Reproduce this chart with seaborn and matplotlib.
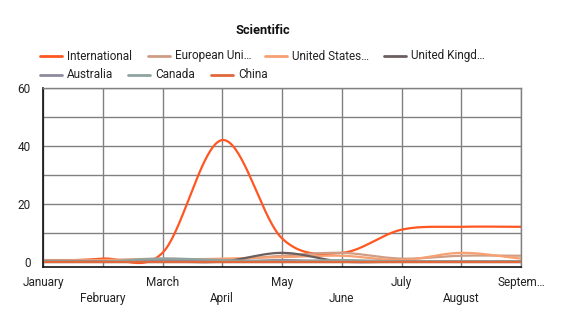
import numpy as np
import pandas as pd
import matplotlib
matplotlib.use("Agg")
import matplotlib.pyplot as plt
import seaborn as sns
from matplotlib.lines import Line2D

months = ["January", "February", "March", "April", "May", "June", "July", "August", "September"]
tick_labels = ["January", "February", "March", "April", "May", "June", "July", "August", "Septem…"]
series_names = ["International", "European Union", "United States", "United Kingdom",
                "Australia", "Canada", "China"]
legend_labels = ["International", "European Uni…", "United States…", "United Kingd…",
                 "Australia", "Canada", "China"]
international = [0, 1, 3, 42, 8, 3, 11, 12, 12]
european_union = [0.5, 0.5, 1, 0.5, 2, 3, 1, 2, 2]
united_states = [0, 0.5, 0.5, 1, 1.5, 2, 0.5, 3, 1]
united_kingdom = [0, 0, 0, 0, 3, 0, 0, 0, 0]
australia = [0, 0, 0.5, 0, 0.5, 0, 0, 0, 0]
canada = [0, 0, 1, 0.5, 0, 0.5, 0, 0, 0]
china = [0, 0, 0, 0, 0, 0, 0, 0, 0]
colors = ["#ff5722", "#d09c84", "#f7a072", "#6b5e5e", "#8c8c9c", "#8ea4a0", "#e0683a"]

all_values = [international, european_union, united_states, united_kingdom,
              australia, canada, china]


def smooth(y, n=40):
    y = np.asarray(y, dtype=float)
    k = len(y)
    m = np.zeros(k)
    m[1:-1] = (y[2:] - y[:-2]) / 2
    m[0] = (y[1] - y[0])
    m[-1] = (y[-1] - y[-2])
    xs, ys = [], []
    t = np.linspace(0, 1, n, endpoint=False)
    h00 = 2 * t**3 - 3 * t**2 + 1
    h10 = t**3 - 2 * t**2 + t
    h01 = -2 * t**3 + 3 * t**2
    h11 = t**3 - t**2
    for i in range(k - 1):
        xs.append(i + t)
        ys.append(h00 * y[i] + h10 * m[i] + h01 * y[i + 1] + h11 * m[i + 1])
    xs.append(np.array([k - 1.0]))
    ys.append(np.array([y[-1]]))
    return np.concatenate(xs), np.concatenate(ys)


rows = []
for name, vals in zip(series_names, all_values):
    xs, ys = smooth(vals)
    for xv, yv in zip(xs, ys):
        rows.append({"x": xv, "y": yv, "series": name})
df = pd.DataFrame(rows)

sns.set_theme(style="white")
plt.rcParams["font.family"] = ["Roboto", "DejaVu Sans"]

fig = plt.figure(figsize=(5.61, 3.31), dpi=100)
ax = fig.add_axes([43 / 561, 1 - 267.3 / 331, (521 - 43) / 561, (267.3 - 88) / 331])

sns.lineplot(data=df, x="x", y="y", hue="series", hue_order=series_names,
             palette=colors, ax=ax, linewidth=1.6, legend=False, sort=False,
             estimator=None)

ax.set_xlim(0, 8)
ax.set_ylim(-2, 60)
ax.set_xticks(range(9))
ax.set_xticklabels([("\n" + l) if i % 2 else l for i, l in enumerate(tick_labels)],
                   fontsize=8.5, color="#222222", linespacing=1.35)
ax.set_yticks([0, 20, 40, 60])
ax.set_yticks([10, 30, 50], minor=True)
ax.set_yticklabels(["0", "20", "40", "60"], fontsize=8.5, color="#222222")
ax.tick_params(axis="both", length=0, which="both")
ax.tick_params(axis="x", pad=6)
ax.tick_params(axis="y", pad=9)
ax.grid(True, which="both", color="#808080", linewidth=1)
ax.set_axisbelow(True)
ax.set_xlabel("")
ax.set_ylabel("")
for side in ["top", "right"]:
    ax.spines[side].set_color("#808080")
    ax.spines[side].set_linewidth(1)
for side in ["left", "bottom"]:
    ax.spines[side].set_color("#111111")
    ax.spines[side].set_linewidth(1.2)

fig.text(263 / 561, 1 - 31 / 331, "Scientific", ha="center", va="center",
         fontsize=9.3, fontweight="bold", color="#111111")

W, H = 561, 331
legend_pos = [(40, 56), (148, 56), (265, 56), (384, 56), (40, 75), (128, 75), (211, 75)]
for (px, py), lab, c in zip(legend_pos, legend_labels, colors):
    fig.add_artist(Line2D([px / W, (px + 22) / W], [1 - py / H, 1 - py / H],
                          color=c, linewidth=2, transform=fig.transFigure))
    fig.text((px + 27) / W, 1 - py / H, lab, ha="left", va="center",
             fontsize=8.5, color="#222222")

fig.savefig("out.png", dpi=100)
